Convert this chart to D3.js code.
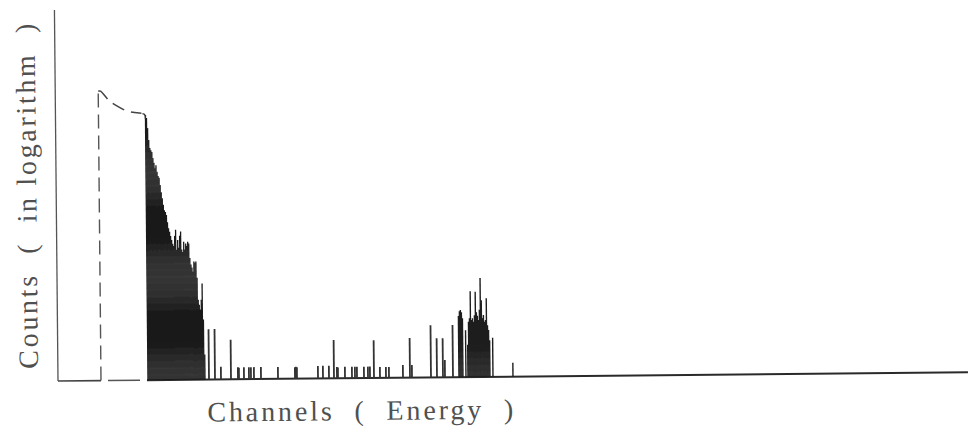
<!DOCTYPE html>
<html>
<head>
<meta charset="utf-8">
<script src="https://cdn.jsdelivr.net/npm/d3@7"></script>
<style>
  html, body { margin: 0; padding: 0; background: #fff; }
  svg { display: block; }
  .label { font-family: 'Liberation Serif', 'DejaVu Serif', serif; fill: #505050; white-space: pre; }
</style>
</head>
<body>
<svg id="chart" width="968" height="440"></svg>
<script>
// DATA (channel number, counts in log units)
const denseChannels = [90, 91, 92, 93, 94, 95, 96, 97, 98, 99, 100, 101, 102, 103, 104, 105, 106, 107, 108, 109,
  110, 111, 112, 113, 114, 115, 116, 117, 118, 119, 120, 121, 122, 123, 124, 125, 126, 127, 128, 129,
  130, 131, 132, 133, 134, 135, 136, 137, 138, 139, 140, 141, 142, 143, 144, 145, 146, 147];
const denseCounts = [4.42, 4.37, 4.20, 4.00, 3.87, 3.83, 3.80, 3.70, 3.62, 3.53, 3.58, 3.47, 3.40, 3.37, 3.25, 3.13, 3.03, 2.92, 2.83, 2.80,
  2.75, 2.63, 2.53, 2.47, 2.40, 2.33, 2.27, 2.23, 2.40, 2.50, 2.17, 2.33, 2.20, 2.40, 2.47, 2.17, 2.13, 2.30, 2.17, 2.27,
  2.23, 2.30, 2.27, 2.03, 1.92, 1.87, 1.80, 1.97, 1.95, 1.97, 1.70, 1.33, 1.25, 1.17, 1.33, 1.60, 1.00, 0.42];

const lineChannels = [151, 157, 163, 173, 180, 181, 186, 191, 193, 196, 203, 220, 237, 238, 239, 260, 265, 271, 276, 279,
  280, 287, 294, 297, 299, 306, 310, 312, 316, 322, 328, 331, 345, 352, 354, 373, 379, 385, 387, 395];
const lineCounts = [0.84, 0.84, 0.21, 0.66, 0.20, 0.19, 0.20, 0.20, 0.20, 0.20, 0.20, 0.20, 0.19, 0.20, 0.19, 0.21, 0.21, 0.21, 0.64, 0.19,
  0.18, 0.19, 0.19, 0.19, 0.19, 0.19, 0.19, 0.19, 0.63, 0.18, 0.18, 0.18, 0.21, 0.66, 0.21, 0.87, 0.65, 0.65, 0.29, 0.87];

const clusterChannels = [401, 402, 403, 404, 405, 408, 410, 411, 412, 413, 414, 415, 416, 417, 418, 419, 420, 421, 422, 423,
  424, 425, 426, 427, 428, 429, 430, 431, 432, 435, 455];
const clusterCounts = [1.02, 1.10, 1.12, 1.08, 0.98, 0.78, 0.54, 0.92, 0.98, 1.43, 0.95, 0.98, 0.92, 1.03, 1.42, 1.08, 1.02, 0.95, 1.12, 1.65,
  1.28, 0.98, 1.03, 0.92, 0.95, 1.31, 0.86, 0.78, 0.61, 0.65, 0.23];

// extrapolated low-energy part, drawn dashed
const edgeChannel = 43;
const edgeCurveChannels = [43, 45, 49, 54, 62, 72, 86];
const edgeCurveCounts = [4.82, 4.84, 4.76, 4.65, 4.57, 4.47, 4.45];

const xLabel = 'Channels  (  Energy  )';
const yLabel = 'Counts  (  in logarithm  )';

// SETUP
const svg = d3.select('#chart');
const x = d3.scaleLinear().domain([0, 910]).range([58, 968]);
const y = d3.scaleLinear().domain([0, 6]).range([381, 21]);

// the scanned figure sits a little askew
const g = svg.append('g')
  .attr('transform', 'rotate(-0.55,' + x(0) + ',' + y(0) + ')');

// AXES
g.append('line')
  .attr('x1', x(0)).attr('x2', x(0))
  .attr('y1', 10).attr('y2', y(0))
  .attr('stroke', '#555').attr('stroke-width', 1.3);

g.append('line')
  .attr('x1', x(0)).attr('x2', x(edgeChannel))
  .attr('y1', y(0)).attr('y2', y(0))
  .attr('stroke', '#444').attr('stroke-width', 1.6);

g.append('line')
  .attr('x1', x(50)).attr('x2', x(82))
  .attr('y1', y(0)).attr('y2', y(0))
  .attr('stroke', '#555').attr('stroke-width', 1.4);

g.append('line')
  .attr('x1', x(89)).attr('x2', x(910))
  .attr('y1', y(0)).attr('y2', y(0))
  .attr('stroke', '#2a2a2a').attr('stroke-width', 2);

// DASHED EDGE
g.append('line')
  .attr('x1', x(edgeChannel)).attr('x2', x(edgeChannel))
  .attr('y1', y(0)).attr('y2', y(edgeCurveCounts[0]))
  .attr('stroke', '#555').attr('stroke-width', 1.4)
  .attr('stroke-dasharray', '14,7');

g.append('path')
  .datum(edgeCurveChannels.map((c, i) => [c, edgeCurveCounts[i]]))
  .attr('d', d3.line().x(d => x(d[0])).y(d => y(d[1])).curve(d3.curveBasis))
  .attr('fill', 'none')
  .attr('stroke', '#444').attr('stroke-width', 1.5)
  .attr('stroke-dasharray', '13,7');

// SPECTRUM LINES
function drawLines(channels, counts, cls, width, color) {
  g.selectAll('.' + cls)
    .data(channels.map((c, i) => ({ c: c, v: counts[i] })))
    .enter()
    .append('line')
    .attr('class', cls)
    .attr('x1', d => x(d.c)).attr('x2', d => x(d.c))
    .attr('y1', y(0)).attr('y2', d => y(d.v))
    .attr('stroke', color)
    .attr('stroke-width', width);
}

drawLines(denseChannels, denseCounts, 'dense', 1.3, '#1a1a1a');
drawLines(lineChannels, lineCounts, 'peak', 1.8, '#333');
drawLines(clusterChannels, clusterCounts, 'cluster', 1.4, '#1e1e1e');

// little curl at the top of the first channel
g.append('path')
  .attr('d', 'M' + (x(denseChannels[0]) - 3) + ',' + (y(denseCounts[0]) - 1) +
    ' Q' + x(denseChannels[0]) + ',' + (y(denseCounts[0]) - 2) + ' ' + x(denseChannels[0]) + ',' + (y(denseCounts[0]) + 4))
  .attr('fill', 'none').attr('stroke', '#333').attr('stroke-width', 1.3);

// LABELS
g.append('text')
  .attr('class', 'label')
  .attr('x', 360).attr('y', 423)
  .attr('text-anchor', 'middle')
  .attr('textLength', 306)
  .attr('lengthAdjust', 'spacing')
  .style('font-size', '28px')
  .text(xLabel);

g.append('text')
  .attr('class', 'label')
  .attr('transform', 'translate(38,196) rotate(-90)')
  .attr('text-anchor', 'middle')
  .attr('textLength', 345)
  .attr('lengthAdjust', 'spacing')
  .style('font-size', '28px')
  .text(yLabel);
</script>
</body>
</html>
